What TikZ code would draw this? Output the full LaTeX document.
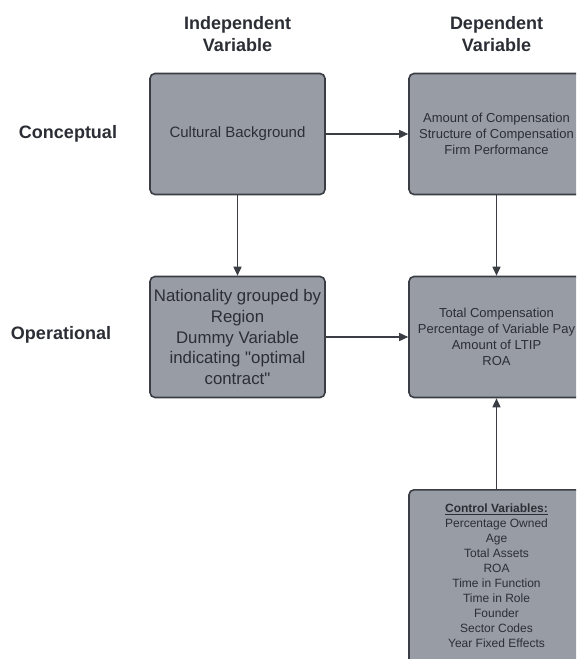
\documentclass[tikz,border=0pt]{standalone}
\usepackage{fontspec}
\setmainfont{Liberation Sans}[Ligatures=TeXOff]
\usetikzlibrary{arrows.meta}
\definecolor{boxfill}{HTML}{989CA5}
\definecolor{boxline}{HTML}{3A3D44}
\definecolor{txt}{HTML}{2B2E35}
\begin{document}
\begin{tikzpicture}[x=1pt,y=-1pt,
  box/.style={draw=boxline, fill=boxfill, line width=1.6pt, rounded corners=5pt,
    minimum width=175pt, minimum height=121pt, inner sep=0pt, text=txt, align=center,
    font=\fontsize{13}{15.8}\selectfont},
  head/.style={font=\fontsize{18}{22}\selectfont\bfseries, text=txt, align=center},
  conn/.style={draw=boxline, line width=1.5pt, -{Triangle[length=9pt,width=8pt]}}]
\clip (0,0) rectangle (576,659);
\fill[white] (0,0) rectangle (576,659);
\node[head] (ivh) at (237.5,34) {Independent\\Variable};
\node[head] (dvh) at (496.5,34) {Dependent\\Variable};
\node[head] (conc) at (68,134) {Conceptual};
\node[head] (oper) at (61,335) {Operational};
\node[box, font=\fontsize{15}{18}\selectfont] (cb) at (237.5,134) {Cultural Background};
\node[box] (dv) at (496.5,134) {Amount of Compensation\\Structure of Compensation\\Firm Performance};
\node[box, font=\fontsize{16.8}{20.6}\selectfont] (nat) at (237.5,337) {Nationality grouped by\\Region\\Dummy Variable\\indicating "optimal\\contract"};
\node[box] (op) at (496.5,337) {Total Compensation\\Percentage of Variable Pay\\Amount of LTIP\\ROA};
\node[box, minimum height=200pt, anchor=north] (cv) at (496.5,489) {};
\node[text=txt, align=center, inner sep=0pt, anchor=north, font=\fontsize{12}{15}\selectfont] (cvt) at (496.5,504)
  {\textbf{\underline{Control Variables:}}\\Percentage Owned\\Age\\Total Assets\\ROA\\Time in Function\\Time in Role\\Founder\\Sector Codes\\Year Fixed Effects};
\draw[conn] (cb) -- (dv);
\draw[conn] (cb.south) -- (nat.north);
\draw[conn] (dv.south) -- (op.north);
\draw[conn] (nat) -- (op);
\draw[conn] (cv.north) -- (op.south);
\end{tikzpicture}
\end{document}
